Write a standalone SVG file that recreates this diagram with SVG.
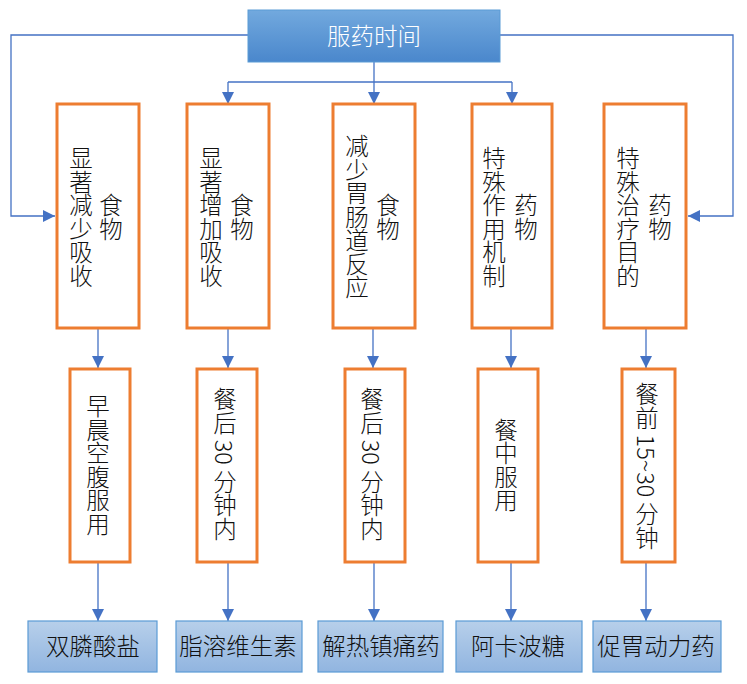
<svg xmlns="http://www.w3.org/2000/svg" width="747" height="684" viewBox="0 0 747 684">
<defs>
<linearGradient id="gTop" x1="0" y1="0" x2="0" y2="1">
<stop offset="0" stop-color="#72a9de"/>
<stop offset="1" stop-color="#4a87cc"/>
</linearGradient>
<linearGradient id="gBot" x1="0" y1="0" x2="0" y2="1">
<stop offset="0" stop-color="#b7cfea"/>
<stop offset="1" stop-color="#91b5e0"/>
</linearGradient>
<marker id="arr" viewBox="0 0 10 10" refX="10" refY="5" markerWidth="14" markerHeight="12" markerUnits="userSpaceOnUse" orient="auto">
<path d="M0,0 L10,5 L0,10 z" fill="#4472c4"/>
</marker>
</defs>
<style>
.cn{fill:none;stroke:#4472c4;stroke-width:1.3}
.ob{fill:#ffffff;stroke:#ed7d31;stroke-width:3}
.bb{fill:url(#gBot);stroke:#5b9bd5;stroke-width:1.2}
.t{font-family:"Noto Sans CJK SC","Noto Sans",sans-serif;font-size:23.5px;fill:#111111;font-weight:300}
.v{writing-mode:vertical-rl;text-anchor:middle}
.h{text-anchor:middle;dominant-baseline:central}
</style>
<rect width="747" height="684" fill="#ffffff"/>
<g id="connectors">
<polyline class="cn" points="248,35 11,35 11,216 55,216" marker-end="url(#arr)"/>
<polyline class="cn" points="500,35 733,35 733,216 688,216" marker-end="url(#arr)"/>
<line class="cn" x1="374" y1="62" x2="374" y2="82"/>
<line class="cn" x1="228" y1="82" x2="512" y2="82"/>
<line class="cn" x1="228" y1="82" x2="228" y2="104" marker-end="url(#arr)"/>
<line class="cn" x1="374" y1="82" x2="374" y2="104" marker-end="url(#arr)"/>
<line class="cn" x1="512" y1="82" x2="512" y2="104" marker-end="url(#arr)"/>
<line class="cn" x1="98" y1="329" x2="98" y2="368" marker-end="url(#arr)"/>
<line class="cn" x1="228" y1="329" x2="228" y2="368" marker-end="url(#arr)"/>
<line class="cn" x1="373" y1="329" x2="373" y2="368" marker-end="url(#arr)"/>
<line class="cn" x1="511" y1="329" x2="511" y2="368" marker-end="url(#arr)"/>
<line class="cn" x1="646" y1="329" x2="646" y2="368" marker-end="url(#arr)"/>
<line class="cn" x1="98" y1="563" x2="98" y2="621" marker-end="url(#arr)"/>
<line class="cn" x1="228" y1="563" x2="228" y2="621" marker-end="url(#arr)"/>
<line class="cn" x1="374" y1="563" x2="374" y2="621" marker-end="url(#arr)"/>
<line class="cn" x1="511" y1="563" x2="511" y2="621" marker-end="url(#arr)"/>
<line class="cn" x1="646" y1="563" x2="646" y2="621" marker-end="url(#arr)"/>
</g>
<g id="root">
<rect x="248" y="10" width="252" height="52" fill="url(#gTop)" stroke="#5b9bd5" stroke-width="1"/>
<text class="t h" x="374" y="35" style="fill:#ffffff">服药时间</text>
</g>
<g id="n1">
<rect class="ob" x="57" y="104" width="82" height="224"/>
<text class="t v" x="81" y="217">显著减少吸收</text>
<text class="t v" x="111" y="217">食物</text>
</g>
<g id="n2">
<rect class="ob" x="187" y="104" width="82" height="224"/>
<text class="t v" x="211" y="217">显著增加吸收</text>
<text class="t v" x="242" y="217">食物</text>
</g>
<g id="n3">
<rect class="ob" x="333" y="104" width="82" height="224"/>
<text class="t v" x="357" y="217">减少胃肠道反应</text>
<text class="t v" x="388" y="217">食物</text>
</g>
<g id="n4">
<rect class="ob" x="472" y="104" width="80" height="224"/>
<text class="t v" x="494" y="217">特殊作用机制</text>
<text class="t v" x="526" y="217">药物</text>
</g>
<g id="n5">
<rect class="ob" x="604" y="104" width="82" height="224"/>
<text class="t v" x="628" y="217">特殊治疗目的</text>
<text class="t v" x="660" y="217">药物</text>
</g>
<g id="m1">
<rect class="ob" x="70" y="369" width="60" height="193"/>
<text class="t v" x="98" y="465">早晨空腹服用</text>
</g>
<g id="m2">
<rect class="ob" x="197" y="369" width="60" height="193"/>
<text class="t v" x="225" y="464">餐后 30 分钟内</text>
</g>
<g id="m3">
<rect class="ob" x="345" y="369" width="60" height="193"/>
<text class="t v" x="372" y="464">餐后 30 分钟内</text>
</g>
<g id="m4">
<rect class="ob" x="478" y="369" width="60" height="193"/>
<text class="t v" x="506" y="465">餐中服用</text>
</g>
<g id="m5">
<rect class="ob" x="622" y="369" width="53" height="193"/>
<text class="t v" x="647" y="466">餐前 15~30 分钟</text>
</g>
<g id="b1">
<rect class="bb" x="28" y="621" width="129" height="51"/>
<text class="t h" x="93" y="645">双膦酸盐</text>
</g>
<g id="b2">
<rect class="bb" x="176" y="621" width="126" height="51"/>
<text class="t h" x="238" y="645">脂溶维生素</text>
</g>
<g id="b3">
<rect class="bb" x="318" y="621" width="125" height="51"/>
<text class="t h" x="381" y="645">解热镇痛药</text>
</g>
<g id="b4">
<rect class="bb" x="456" y="621" width="126" height="51"/>
<text class="t h" x="518" y="645">阿卡波糖</text>
</g>
<g id="b5">
<rect class="bb" x="593" y="621" width="128" height="51"/>
<text class="t h" x="656" y="645">促胃动力药</text>
</g>
</svg>
